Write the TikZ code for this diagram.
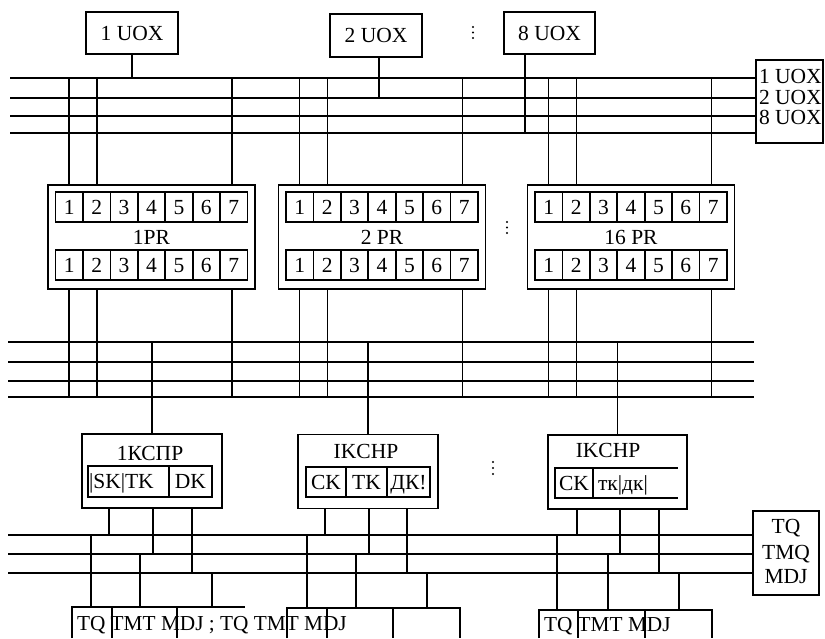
\documentclass[tikz,border=0pt]{standalone}
\usepackage{fontspec}
\setmainfont{Liberation Serif}
\begin{document}
\begin{tikzpicture}[x=1pt,y=-1pt,line width=1.7pt,
  box/.style={draw,inner sep=0pt,outer sep=0pt,font=\fontsize{21.5}{23}\selectfont},
  cell/.style={box,text height=14.5pt,text depth=0pt},
  lbl/.style={inner sep=0pt,outer sep=0pt,font=\fontsize{21.5}{23}\selectfont},
  bigl/.style={inner sep=0pt,outer sep=0pt,font=\fontsize{21.3}{23}\selectfont},
  dotm/.style={fill=black}]
\useasboundingbox (0,0) rectangle (825,638);

% bus coordinates
\coordinate (ua) at (0,78);  \coordinate (ub) at (0,98);
\coordinate (uc) at (0,116); \coordinate (ud) at (0,133);
\coordinate (ma) at (0,342); \coordinate (mb) at (0,362);
\coordinate (mc) at (0,381); \coordinate (md) at (0,397);
\coordinate (la) at (0,535); \coordinate (lb) at (0,554);
\coordinate (lc) at (0,573);

% ---------- top: UOX boxes ----------
\node[box,minimum width=92pt,minimum height=42pt] (uox1) at (132,33) {1 UOX};
\node[box,minimum width=92pt,minimum height=43pt] (uox2) at (376,35.5) {2 UOX};
\node[box,minimum width=91pt,minimum height=42pt] (uox8) at (549.5,33) {8 UOX};
\foreach \y in {27,32.5,38} \fill[dotm] (473,\y) circle (1.1pt);

\node[box,minimum width=67pt,minimum height=83pt] (ru) at (789.5,101.5) {};
\node[lbl,anchor=west] (ru1) at (759,76) {1 UOX};
\node[lbl,anchor=west] (ru2) at (759,97) {2 UOX};
\node[lbl,anchor=west] (ru8) at (759,117) {8 UOX};

\foreach \c in {ua,ub,uc,ud} \draw ([xshift=10pt]\c) -- (ru.west |- \c);

\coordinate (c2) at (379,0); \coordinate (c8) at (525,0);
\draw (uox1.south) -- (uox1.south |- ua);
\draw (c2 |- uox2.south) -- (c2 |- ub);
\draw (c8 |- uox8.south) -- (c8 |- ud);

% ---------- PR boxes ----------
\foreach \n/\cx/\lab in {1/151.5/1PR,2/382/2 PR,3/631/16 PR}{
  \node[box,minimum width=207pt,minimum height=104pt] (pr\n) at (\cx,237) {\lab};
  \foreach \i in {1,...,7}{
    \node[cell,minimum width=27.43pt,minimum height=30pt] (pr\n-t\i) at ({\cx-96+(\i-0.5)*27.43},207) {\i};
    \node[cell,minimum width=27.43pt,minimum height=30pt] (pr\n-b\i) at ({\cx-96+(\i-0.5)*27.43},265) {\i};
  }
  \foreach \k/\dx in {a/-82.5,b/-54.5,c/80.5}{
    \coordinate (pr\n-\k) at ({\cx+\dx},0);
    \draw (pr\n-\k |- ua) -- (pr\n-\k |- pr\n.north);
    \draw (pr\n-\k |- pr\n.south) -- (pr\n-\k |- md);
  }
}
\foreach \y in {222,227.5,233} \fill[dotm] (507,\y) circle (1.1pt);

% ---------- middle bus ----------
\foreach \c in {ma,mb,mc,md} \draw ([xshift=8pt]\c) -- ([xshift=754pt]\c);

% ---------- KCHP boxes ----------
\node[box,minimum width=140pt,minimum height=74pt] (k1) at (152,471) {};
\node[box,minimum width=140pt,minimum height=74pt] (k2) at (368,471.5) {};
\node[box,minimum width=139pt,minimum height=74pt] (k3) at (617.5,472) {};
\node[lbl] (k1l) at (150,453) {1КСПР};
\node[lbl] (k2l) at (366,451) {IKCHP};
\node[lbl] (k3l) at (608,450) {IKCHP};
\foreach \k in {k1,k2,k3} \draw (\k.north) -- (\k.north |- ma);
\foreach \y in {462,468,474} \fill[dotm] (493,\y) circle (1.1pt);

% inner cells
\node[cell,minimum width=81pt,minimum height=31pt] (k1a) at (128.5,481.5) {};
\node[cell,minimum width=43pt,minimum height=31pt] (k1b) at (190.5,481.5) {DK};
\node[lbl,anchor=base west] (k1t) at (89,488.5) {|SK|TK};
\node[cell,minimum width=40pt,minimum height=30pt] (k2a) at (326,482) {CK};
\node[cell,minimum width=41pt,minimum height=30pt] (k2b) at (366.5,482) {TK};
\node[cell,minimum width=43pt,minimum height=30pt] (k2c) at (408.5,482) {ДК!};
\node[cell,minimum width=38pt,minimum height=30pt] (k3a) at (574,483) {CK};
\draw (k3a.north east) -- ++(85,0);
\draw (k3a.south east) -- ++(85,0);
\node[lbl,anchor=base west] (k3t) at (598,490) {тк|дк|};

% ---------- lower bus ----------
\node[box,minimum width=66pt,minimum height=84pt] (rb) at (786,553) {};
\node[lbl] (rb1) at (786,528) {TQ};
\node[lbl] (rb2) at (786,554) {TMQ};
\node[lbl] (rb3) at (786,577) {MDJ};
\foreach \c in {la,lb,lc} \draw ([xshift=8pt]\c) -- (rb.west |- \c);

% connections from KCHP boxes to lower bus
\foreach \k/\xa/\xb/\xc in {k1/109/153/192,k2/325/369/407,k3/577/620/659}{
  \coordinate (\k-ua) at (\xa,0);
  \coordinate (\k-ub) at (\xb,0);
  \coordinate (\k-uc) at (\xc,0);
  \draw (\k-ua |- \k.south) -- (\k-ua |- la);
  \draw (\k-ub |- \k.south) -- (\k-ub |- lb);
  \draw (\k-uc |- \k.south) -- (\k-uc |- lc);
}

% ---------- bottom groups ----------
\coordinate (g1) at (72,607);
\coordinate (g2) at (287,608);
\coordinate (g3) at (539,610);
\draw (72,638) -- (g1) -- (245,607);
\draw (112,607) -- (112,638);
\draw (177,607) -- (177,638);
\draw (287,638) -- (g2) -- (460,608) -- (460,638);
\draw (327,608) -- (327,638);
\draw (393,608) -- (393,638);
\draw (539,638) -- (g3) -- (712,610) -- (712,638);
\draw (578,610) -- (578,638);
\draw (645,610) -- (645,638);

% connections from lower bus down to groups
\foreach \g/\xa/\xb/\xc in {g1/91/140/212,g2/307/356/427,g3/557/608/679}{
  \coordinate (\g-da) at (\xa,0);
  \coordinate (\g-db) at (\xb,0);
  \coordinate (\g-dc) at (\xc,0);
  \draw (\g-da |- la) -- (\g-da |- \g);
  \draw (\g-db |- lb) -- (\g-db |- \g);
  \draw (\g-dc |- lc) -- (\g-dc |- \g);
}

\node[bigl,anchor=base west] (bt1) at (77,630) {TQ TMT MDJ ; TQ TMT MDJ};
\node[bigl,anchor=base west] (bt3) at (544,631) {TQ TMT MDJ};
\end{tikzpicture}
\end{document}
